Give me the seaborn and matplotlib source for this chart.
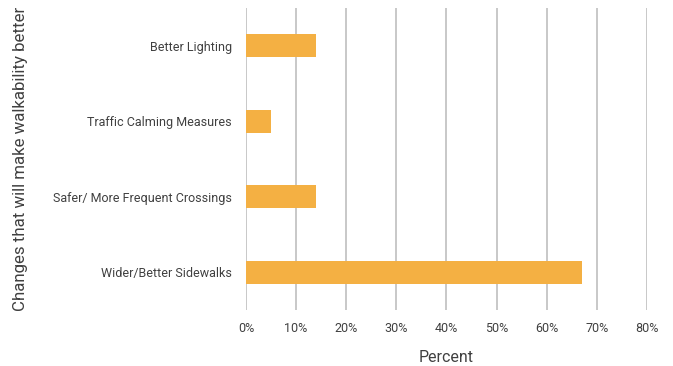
import matplotlib
matplotlib.use("Agg")
import matplotlib.pyplot as plt
import seaborn as sns
import pandas as pd
from matplotlib.ticker import FuncFormatter

categories = ["Better Lighting", "Traffic Calming Measures",
              "Safer/ More Frequent Crossings", "Wider/Better Sidewalks"]
values = [14, 5, 14, 67]
xticks = [0, 10, 20, 30, 40, 50, 60, 70, 80]

df = pd.DataFrame({"cat": categories, "val": values})

sns.set_theme(style="white")
plt.rcParams['font.family'] = ['Roboto', 'DejaVu Sans']

fig = plt.figure(figsize=(6.73, 3.66), dpi=100)
ax = fig.add_axes([246/673, 1-310/366, (647-246)/673, (310-8)/366])

sns.barplot(data=df, y="cat", x="val", orient="h", color="#F4B043",
            width=0.31, saturation=1, ax=ax, zorder=3, linewidth=0)

ax.set_xlim(0, 80)
ax.set_ylim(3.5, -0.5)
ax.set_xticks(xticks)
ax.xaxis.set_major_formatter(FuncFormatter(lambda v, p: f"{int(v)}%"))
ax.grid(axis="x", color="#bfbfbf", linewidth=1.2, zorder=0)
ax.grid(axis="y", visible=False)
for s in ax.spines.values():
    s.set_visible(False)
ax.tick_params(axis="both", length=0, labelsize=9, colors="#404040")
ax.tick_params(axis="x", pad=9)
ax.tick_params(axis="y", pad=10)
ax.set_xlabel("Percent", fontsize=11.5, color="#404040", va="center")
ax.set_ylabel("Changes that will make walkability better", fontsize=12.2,
              color="#404040", va="center")
ax.xaxis.set_label_coords(0.5, -(357-310)/302)
ax.yaxis.set_label_coords(-(246-20)/401, 0.5)

fig.savefig("out.png", dpi=100)
